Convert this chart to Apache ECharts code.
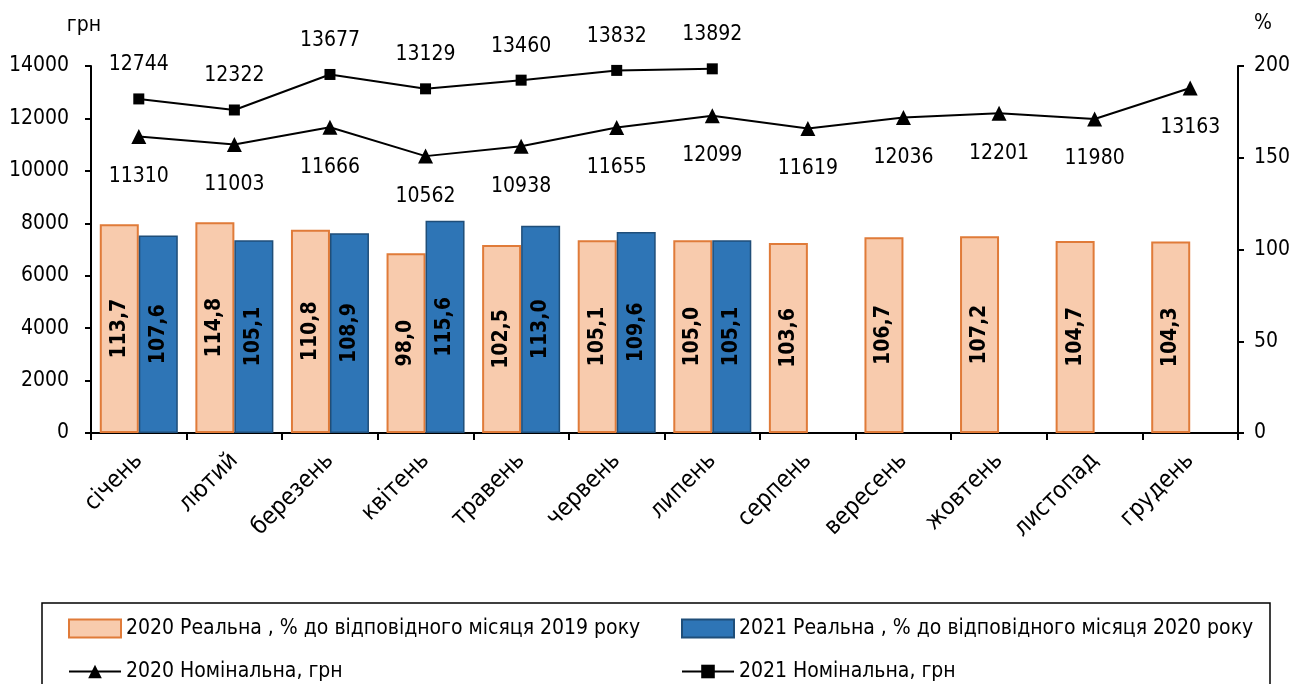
<!DOCTYPE html>
<html>
<head>
<meta charset="utf-8">
<script src="https://cdn.jsdelivr.net/npm/echarts@6/dist/echarts.min.js"></script>
<style>
  html, body { margin: 0; padding: 0; background: #fff; }
  #main { width: 1314px; height: 684px; }
</style>
</head>
<body>
<div id="main"></div>
<script>
// дані
var months = ['січень', 'лютий', 'березень', 'квітень', 'травень', 'червень', 'липень', 'серпень', 'вересень', 'жовтень', 'листопад', 'грудень']
var real2020 = [113.7, 114.8, 110.8, 98.0, 102.5, 105.1, 105.0, 103.6, 106.7, 107.2, 104.7, 104.3]
var real2021 = [107.6, 105.1, 108.9, 115.6, 113.0, 109.6, 105.1, null, null, null, null, null]
var nom2020 = [11310, 11003, 11666, 10562, 10938, 11655, 12099, 11619, 12036, 12201, 11980, 13163]
var nom2021 = [12744, 12322, 13677, 13129, 13460, 13832, 13892, null, null, null, null, null]

var names = [
  '2020 Реальна , % до відповідного місяця 2019 року',
  '2021 Реальна , % до відповідного місяця 2020 року',
  '2020 Номінальна, грн',
  '2021 Номінальна, грн'
]

var FONT = '"DejaVu Sans Condensed", "DejaVu Sans", sans-serif'

var myChart = echarts.init(document.getElementById('main'))

function fmtComma (p) {
  return p.value == null ? '' : p.value.toFixed(1).replace('.', ',')
}

var barLabel = {
  show: true,
  position: 'inside',
  rotate: 90,
  formatter: fmtComma,
  color: '#000',
  fontWeight: 'bold',
  fontSize: 21,
  fontFamily: FONT
}

function oneLegend (name, left, top, h, icon) {
  var lg = {
    left: left, top: top, padding: 0,
    itemWidth: 52, itemHeight: h, itemGap: 0,
    textStyle: { fontSize: 21, color: '#000', fontFamily: FONT },
    data: [name]
  }
  if (icon) lg.icon = icon
  return lg
}

var option = {
  animation: false,
  textStyle: { fontFamily: FONT },
  grid: { left: 91, right: 76, top: 66, bottom: 251 },
  graphic: [{
    type: 'rect',
    shape: { x: 42, y: 603, width: 1228, height: 90 },
    style: { fill: 'none', stroke: '#000', lineWidth: 1.5 },
    silent: true
  }],
  legend: [
    oneLegend(names[0], 68, 618, 18, 'rect'),
    oneLegend(names[1], 681, 618, 18, 'rect'),
    oneLegend(names[2], 68, 661, 17),
    oneLegend(names[3], 681, 661, 17)
  ],
  xAxis: {
    type: 'category',
    data: months,
    boundaryGap: true,
    axisLine: { lineStyle: { color: '#000', width: 2 } },
    axisTick: { show: true, interval: 0, length: 7, lineStyle: { color: '#000', width: 2 } },
    axisLabel: { interval: 0, rotate: 45, fontSize: 24, color: '#000', margin: 24, fontFamily: FONT }
  },
  yAxis: [{
    type: 'value',
    min: 0, max: 14000, interval: 2000,
    name: 'грн',
    nameGap: 30,
    nameTextStyle: { fontSize: 21, color: '#000', align: 'right', padding: [0, -10, 0, 0], fontFamily: FONT },
    axisLine: { show: true, lineStyle: { color: '#000', width: 2 } },
    axisTick: { show: true, length: 6, lineStyle: { color: '#000', width: 2 } },
    axisLabel: { fontSize: 21, color: '#000', margin: 22, fontFamily: FONT, formatter: function (v) { return String(v) } },
    splitLine: { show: false }
  }, {
    type: 'value',
    min: 0, max: 200, interval: 50,
    name: '%',
    nameGap: 32,
    nameTextStyle: { fontSize: 21, color: '#000', align: 'left', padding: [0, 0, 0, 16], fontFamily: FONT },
    axisLine: { show: true, lineStyle: { color: '#000', width: 2 } },
    axisTick: { show: true, length: 6, lineStyle: { color: '#000', width: 2 } },
    axisLabel: { fontSize: 21, color: '#000', margin: 16, fontFamily: FONT },
    splitLine: { show: false }
  }],
  series: [{
    name: names[0],
    type: 'bar',
    yAxisIndex: 1,
    data: real2020,
    barWidth: 39,
    barGap: '0%',
    itemStyle: { color: '#F8CBAD', borderColor: '#E07B39', borderWidth: 2 },
    label: barLabel
  }, {
    name: names[1],
    type: 'bar',
    yAxisIndex: 1,
    data: real2021,
    barWidth: 39,
    barGap: '0%',
    itemStyle: { color: '#2E75B6', borderColor: '#1F4E79', borderWidth: 1.5 },
    label: barLabel
  }, {
    name: names[2],
    type: 'line',
    yAxisIndex: 0,
    data: nom2020,
    symbol: 'triangle',
    symbolSize: 15,
    lineStyle: { color: '#000', width: 2 },
    itemStyle: { color: '#000' },
    label: { show: true, position: 'bottom', distance: 22, fontSize: 21, color: '#000', fontFamily: FONT }
  }, {
    name: names[3],
    type: 'line',
    yAxisIndex: 0,
    data: nom2021,
    symbol: 'rect',
    symbolSize: 11,
    lineStyle: { color: '#000', width: 2 },
    itemStyle: { color: '#000' },
    label: { show: true, position: 'top', distance: 18, fontSize: 21, color: '#000', fontFamily: FONT }
  }]
}

myChart.setOption(option)
</script>
</body>
</html>
